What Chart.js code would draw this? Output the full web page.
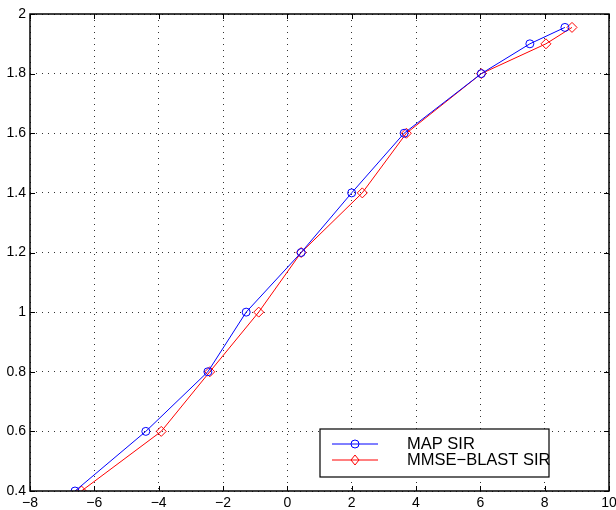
<!DOCTYPE html>
<html>
<head>
<meta charset="utf-8">
<script src="https://cdn.jsdelivr.net/npm/chart.js@4"></script>
<style>
  html, body { margin: 0; padding: 0; background: #fff; }
  #wrap { position: relative; width: 616px; height: 510px; }
</style>
</head>
<body>
<div id="wrap"><canvas id="c" width="616" height="510"></canvas></div>
<script>
// values
const mapX = [-6.6, -4.4, -2.47, -1.28, 0.43, 2.0, 3.63, 6.03, 7.54, 8.63];
const mapY = [0.4, 0.6, 0.8, 1.0, 1.2, 1.4, 1.6, 1.8, 1.9, 1.955];
const mmseX = [-6.4, -3.92, -2.41, -0.89, 0.43, 2.33, 3.7, 6.03, 8.04, 8.85];
const mmseY = [0.4, 0.6, 0.8, 1.0, 1.2, 1.4, 1.6, 1.8, 1.9, 1.955];
const xTicks = [-8, -6, -4, -2, 0, 2, 4, 6, 8, 10];
const yTicks = [0.4, 0.6, 0.8, 1, 1.2, 1.4, 1.6, 1.8, 2];
const seriesNames = ['MAP SIR', 'MMSE\u2212BLAST SIR'];

const FONT = '"Liberation Sans", Arial, sans-serif';

// box, inward ticks and legend in MATLAB style
const matlabFrame = {
  id: 'matlabFrame',
  afterDraw(chart) {
    const { ctx, chartArea: a, scales } = chart;
    ctx.save();
    ctx.strokeStyle = '#000';
    ctx.lineWidth = 1;
    xTicks.forEach(v => {
      const px = Math.round(scales.x.getPixelForValue(v)) + 0.5;
      ctx.beginPath();
      ctx.moveTo(px, a.bottom); ctx.lineTo(px, a.bottom - 5);
      ctx.moveTo(px, a.top); ctx.lineTo(px, a.top + 5);
      ctx.stroke();
    });
    yTicks.forEach(v => {
      const py = Math.round(scales.y.getPixelForValue(v)) + 0.5;
      ctx.beginPath();
      ctx.moveTo(a.left, py); ctx.lineTo(a.left + 5, py);
      ctx.moveTo(a.right, py); ctx.lineTo(a.right - 5, py);
      ctx.stroke();
    });
    ctx.lineWidth = 1.5;
    ctx.strokeRect(a.left, a.top, a.right - a.left, a.bottom - a.top);

    // legend
    const lx = 320, ly = 429, lw = 229, lh = 48;
    ctx.fillStyle = '#fff';
    ctx.fillRect(lx, ly, lw, lh);
    ctx.lineWidth = 1.2;
    ctx.strokeRect(lx, ly, lw, lh);
    const colors = ['#0000ff', '#ff0000'];
    const rows = [ly + 15, ly + 31];
    rows.forEach((ry, i) => {
      ctx.strokeStyle = colors[i];
      ctx.lineWidth = 1;
      ctx.beginPath();
      ctx.moveTo(332, ry); ctx.lineTo(378, ry);
      ctx.stroke();
      ctx.beginPath();
      if (i === 0) {
        ctx.arc(355, ry, 4, 0, Math.PI * 2);
      } else {
        ctx.moveTo(355, ry - 5); ctx.lineTo(359, ry); ctx.lineTo(355, ry + 5); ctx.lineTo(351, ry);
        ctx.closePath();
      }
      ctx.stroke();
      ctx.fillStyle = '#000';
      ctx.font = '16.5px ' + FONT;
      ctx.textBaseline = 'middle';
      ctx.textAlign = 'left';
      ctx.fillText(seriesNames[i], 407, ry);
    });
    ctx.restore();
  }
};

const gridStyle = {
  color: '#333',
  lineWidth: 1,
  tickLength: 0,
  drawTicks: false
};

new Chart(document.getElementById('c'), {
  type: 'scatter',
  data: {
    datasets: [
      {
        label: seriesNames[0],
        data: mapX.map((x, i) => ({ x, y: mapY[i] })),
        showLine: true,
        borderColor: '#0000ff',
        backgroundColor: 'transparent',
        borderWidth: 1,
        pointStyle: 'circle',
        pointRadius: 4,
        pointBorderWidth: 1,
        pointBorderColor: '#0000ff',
        pointBackgroundColor: 'transparent'
      },
      {
        label: seriesNames[1],
        data: mmseX.map((x, i) => ({ x, y: mmseY[i] })),
        showLine: true,
        borderColor: '#ff0000',
        backgroundColor: 'transparent',
        borderWidth: 1,
        pointStyle: 'rectRot',
        pointRadius: 5,
        pointBorderWidth: 1,
        pointBorderColor: '#ff0000',
        pointBackgroundColor: 'transparent'
      }
    ]
  },
  options: {
    responsive: false,
    animation: false,
    layout: { padding: { top: 14, right: 7, left: 0, bottom: 0 } },
    plugins: {
      legend: { display: false },
      tooltip: { enabled: false }
    },
    scales: {
      x: {
        type: 'linear',
        min: -8, max: 10,
        afterBuildTicks: s => { s.ticks = xTicks.map(v => ({ value: v })); },
        afterFit: s => { s.height = 19; s.paddingLeft = 0; s.paddingRight = 0; },
        border: { display: false, dash: [1, 5] },
        grid: { ...gridStyle },
        ticks: {
          color: '#000',
          padding: 4,
          maxRotation: 0,
          font: { family: FONT, size: 14 },
          callback: v => String(v).replace('-', '\u2212')
        }
      },
      y: {
        type: 'linear',
        min: 0.4, max: 2,
        afterBuildTicks: s => { s.ticks = yTicks.map(v => ({ value: v })); },
        afterFit: s => { s.width = 30; },
        border: { display: false, dash: [1, 5] },
        grid: { ...gridStyle },
        ticks: {
          color: '#000',
          padding: 4,
          font: { family: FONT, size: 14 },
          callback: v => String(+v.toFixed(1))
        }
      }
    }
  },
  plugins: [matlabFrame]
});
</script>
</body>
</html>
